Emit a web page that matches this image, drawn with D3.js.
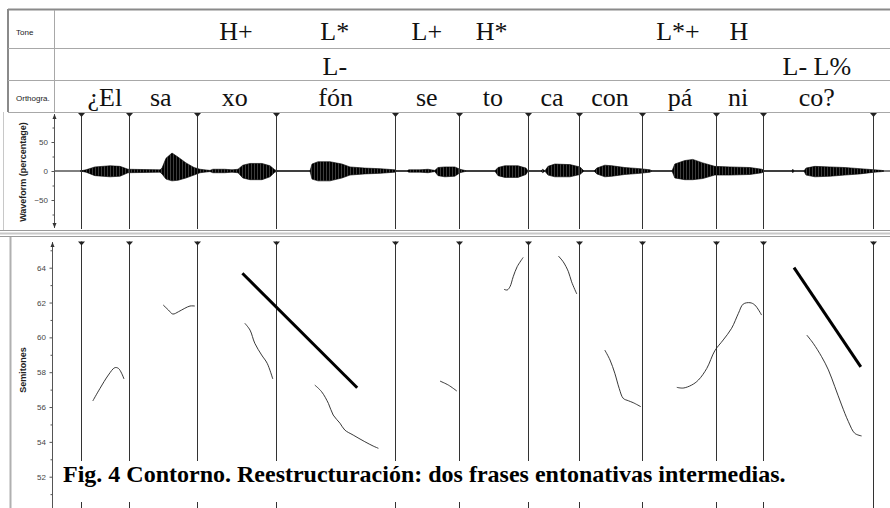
<!DOCTYPE html>
<html><head><meta charset="utf-8">
<script src="https://cdn.jsdelivr.net/npm/d3@7"></script>
<style>body{margin:0;background:#fff}svg{display:block}</style>
</head><body><svg id="c" width="890" height="508"></svg>
<script>
// ---------- DATA ----------
// interval boundaries (ms)
const boundaries = [67,187,357,556,852,1012,1185,1312,1470,1655,1772,2047];
// tier labels [text, ms]
const toneTier = [["H+",455],["L*",702],["L+",932],["H*",1094],["L*+",1560],["H",1712]];
const phraseTier = [["L-",702],["L- L%",1907]];
const orthoTier = [["¿El",127],["sa",267],["xo",452],["fón",704],["se",932],["to",1097],["ca",1245],["con",1390],["pá",1565],["ni",1710],["co?",1907]];
// waveform envelope [ms, upper %, lower %]
const waveEnvelope = [
 [65,0,0],[80,2,2],[102,7,8],[140,9,10],[165,8,9],[185,3,3],[265,2,2],[270,5,5],
 [280,22,14],[295,31,17],[310,24,16],[330,14,12],[350,6,7],[365,3,3],[390,1,1],
 [397,3,3],[427,3,3],[445,2,2],[460,3,3],
 [472,10,12],[490,13,15],[520,13,15],[540,9,10],[552,2,2],[560,0,0],
 [640,0,0],[645,12,14],[660,16,17],[690,16,17],[720,12,12],[740,7,7],[777,5,5],[815,4,4],[852,2,2],[857,0,0],
 [882,0,0],[887,2,2],[915,2,2],[935,3,3],[952,1,1],
 [960,6,8],[977,7,10],[1002,7,9],[1015,3,3],[1027,1,1],[1032,0,0],
 [1102,0,0],[1110,6,8],[1127,9,11],[1160,9,11],[1180,5,6],[1185,0,0],
 [1217,0,0],[1222,3,3],[1227,0,0],[1235,8,7],[1252,12,10],[1290,11,10],[1315,7,6],[1325,0,0],
 [1350,0,0],[1357,5,5],[1377,10,10],[1395,9,9],[1427,6,6],[1465,4,4],[1490,2,2],[1495,0,0],
 [1545,0,0],[1552,12,12],[1577,18,15],[1597,20,15],[1622,14,13],[1652,8,7],[1690,7,7],[1740,6,6],[1770,3,3],[1777,0,0],
 [1845,0,0],[1847,3,3],[1850,0,0],
 [1875,0,0],[1880,5,7],[1902,8,10],[1940,7,9],[1977,6,7],[2015,4,5],[2052,2,2],[2070,1,1],[2075,0,0]
];
// pitch contours [ms, semitones]
const pitchContours = [
 [[97,56.35],[115,57.07],[136,57.84],[152,58.26],[161,58.22],[169,57.94],[175,57.61]],
 [[273,61.86],[286,61.57],[297,61.34],[311,61.47],[327,61.67],[340,61.80],[352,61.80]],
 [[477,60.81],[490,60.42],[502,59.66],[519,58.99],[533,58.51],[547,57.61]],
 [[652,57.26],[669,56.88],[686,56.21],[698,55.54],[715,55.07],[727,54.68],[748,54.39],[777,54.01],[798,53.76],[811,53.63]],
 [[965,57.49],[986,57.26],[1007,56.92]],
 [[1125,62.76],[1133,62.72],[1140,62.91],[1148,63.48],[1158,64.06],[1173,64.59]],
 [[1261,64.67],[1273,64.34],[1286,63.77],[1294,63.19],[1307,62.49]],
 [[1377,59.27],[1390,58.70],[1402,57.94],[1413,57.07],[1423,56.50],[1436,56.36],[1448,56.25],[1467,56.02]],
 [[1557,57.13],[1573,57.09],[1594,57.26],[1611,57.55],[1632,58.22],[1652,59.23],[1673,59.85],[1694,60.52],[1711,61.38],[1723,61.91],[1740,61.99],[1752,61.86],[1769,61.28]],
 [[1882,60.13],[1898,59.66],[1919,58.89],[1936,58.13],[1952,57.17],[1969,56.12],[1986,55.16],[2002,54.49],[2019,54.34]]
];
// stylised straight lines (thick) [ms, semitones]
const stylisedLines = [
 [[471,63.68],[758,57.11]],
 [[1850,64.0],[2017,58.31]]
];
const waveTicks = [-50,0,50];
const waveMinor = [-75,-25,25,75];
const pitchTicks = [52,54,56,58,60,62,64];
const pitchMinor = [51,53,55,57,59,61,63,65];
const caption = "Fig. 4 Contorno. Reestructuración: dos frases entonativas intermedias.";

// ---------- DRAW ----------
const svg = d3.select("#c");
const x = d3.scaleLinear().domain([0,2090]).range([54,890]);
const wy = d3.scaleLinear().domain([-100,100]).range([229,113]);
const py = d3.scaleLinear().domain([52,64]).range([476.7,267.7]);
const grey = "#a8a8a8";

// striped fill for waveform
const defs = svg.append("defs");
const pat = defs.append("pattern").attr("id","wv").attr("patternUnits","userSpaceOnUse").attr("width",3).attr("height",10);
pat.append("rect").attr("width",3).attr("height",10).attr("fill","#000");
pat.append("rect").attr("x",2.2).attr("width",0.5).attr("height",10).attr("fill","#777");

// frames
const fr = svg.append("g").attr("fill","none");
fr.append("line").attr("x1",8).attr("x2",890).attr("y1",9.5).attr("y2",9.5).attr("stroke","#8a8a8a").attr("stroke-width",2);
fr.append("line").attr("x1",8).attr("x2",8).attr("y1",9).attr("y2",112).attr("stroke","#8a8a8a").attr("stroke-width",2);
[48,80,112].forEach(yy=>fr.append("line").attr("x1",8).attr("x2",890).attr("y1",yy+0.5).attr("y2",yy+0.5).attr("stroke",grey));
fr.append("line").attr("x1",54.5).attr("x2",54.5).attr("y1",10).attr("y2",112).attr("stroke",grey);
fr.append("line").attr("x1",3.5).attr("x2",3.5).attr("y1",112).attr("y2",231).attr("stroke","#c8c8c8");
fr.append("line").attr("x1",0).attr("x2",890).attr("y1",230.5).attr("y2",230.5).attr("stroke","#9a9a9a");
fr.append("line").attr("x1",0).attr("x2",890).attr("y1",233.5).attr("y2",233.5).attr("stroke","#c8c8c8").attr("stroke-width",2);
fr.append("line").attr("x1",0).attr("x2",890).attr("y1",236.5).attr("y2",236.5).attr("stroke","#9a9a9a");
fr.append("line").attr("x1",10.5).attr("x2",10.5).attr("y1",237).attr("y2",508).attr("stroke","#b0b0b0").attr("stroke-width",2);

// tier labels
const small = "'Liberation Sans', Arial, sans-serif";
svg.append("text").attr("x",16).attr("y",35).text("Tone").attr("font-family",small).attr("font-size",8).attr("fill","#222");
svg.append("text").attr("x",16).attr("y",101).text("Orthogra.").attr("font-family",small).attr("font-size",8).attr("fill","#222");

const serif = "'Liberation Serif', 'Times New Roman', serif";
function tier(data, base){
  svg.append("g").selectAll("text").data(data).join("text")
   .attr("x",d=>x(d[1])).attr("y",base).attr("text-anchor","middle")
   .attr("font-family",serif).attr("font-size",26).attr("fill","#111").text(d=>d[0]);
}
tier(toneTier,40); tier(phraseTier,75); tier(orthoTier,106);

// waveform
const area = d3.area().x(d=>x(d[0])).y0(d=>wy(-d[2])).y1(d=>wy(d[1]));
svg.append("line").attr("x1",54).attr("x2",890).attr("y1",wy(0)).attr("y2",wy(0)).attr("stroke","#000");
svg.append("path").datum(waveEnvelope).attr("d",area).attr("fill","url(#wv)").attr("stroke","#000").attr("stroke-width",0.6);

// boundaries
function bounds(y1,y2){
  const g = svg.append("g");
  g.selectAll("line").data(boundaries).join("line")
   .attr("x1",d=>Math.round(x(d))+0.5).attr("x2",d=>Math.round(x(d))+0.5).attr("y1",y1).attr("y2",y2)
   .attr("stroke","#333");
  g.selectAll("path").data(boundaries).join("path")
   .attr("d",d=>{const xx=Math.round(x(d))+0.5;return `M${xx-3.5},${y1}L${xx+3.5},${y1}L${xx},${y1+4}Z`;})
   .attr("fill","#222");
}
bounds(113,229);
bounds(241.5,508);

// axes
function axisArrow(xx,top,bot){
  svg.append("line").attr("x1",xx).attr("x2",xx).attr("y1",top).attr("y2",bot).attr("stroke","#555");
  svg.append("path").attr("d",`M${xx-2},${top+5}L${xx+2},${top+5}L${xx},${top}Z`).attr("fill","#333");
}
const wAx = svg.append("g").attr("transform","translate(54.5,0)")
 .call(d3.axisLeft(wy).tickValues(waveTicks).tickSize(3).tickFormat(d3.format("d")));
const wMin = svg.append("g").attr("transform","translate(54.5,0)")
 .call(d3.axisLeft(wy).tickValues(waveMinor).tickSize(2).tickFormat(""));
axisArrow(54.5,114,228);
svg.append("path").attr("d","M52.5,223L56.5,223L54.5,228Z").attr("fill","#333");

const pAx = svg.append("g").attr("transform","translate(52.5,0)")
 .call(d3.axisLeft(py).tickValues(pitchTicks).tickSize(3).tickFormat(d3.format("d")));
const pMin = svg.append("g").attr("transform","translate(52.5,0)")
 .call(d3.axisLeft(py).tickValues(pitchMinor).tickSize(2).tickFormat(""));
axisArrow(52.5,242,508);
[wAx,wMin,pAx,pMin].forEach(a=>{
  a.select(".domain").remove();
  a.selectAll("line").attr("stroke","#555");
  a.selectAll("text").attr("font-family",small).attr("font-size",8).attr("fill","#444").attr("dx",-0.5);
});

svg.append("text").attr("transform","translate(26,172) rotate(-90)").attr("text-anchor","middle")
 .attr("font-family",small).attr("font-weight","bold").attr("font-size",9).attr("fill","#222").text("Waveform (percentage)");
svg.append("text").attr("transform","translate(26,370) rotate(-90)").attr("text-anchor","middle")
 .attr("font-family",small).attr("font-weight","bold").attr("font-size",9).attr("fill","#222").text("Semitones");

// pitch
const line = d3.line().x(d=>x(d[0])).y(d=>py(d[1])).curve(d3.curveCatmullRom);
svg.append("g").selectAll("path").data(pitchContours).join("path")
 .attr("d",line).attr("fill","none").attr("stroke","#222").attr("stroke-width",0.9);
svg.append("g").selectAll("path").data(stylisedLines).join("path")
 .attr("d",d3.line().x(d=>x(d[0])).y(d=>py(d[1]))).attr("fill","none").attr("stroke","#000").attr("stroke-width",3);

// caption
svg.append("rect").attr("x",57).attr("y",461).attr("width",748).attr("height",41).attr("fill","#fff");
svg.append("text").attr("x",63).attr("y",482).attr("font-family",serif).attr("font-weight","bold")
 .attr("font-size",24).attr("fill","#000").text(caption);
</script></body></html>
